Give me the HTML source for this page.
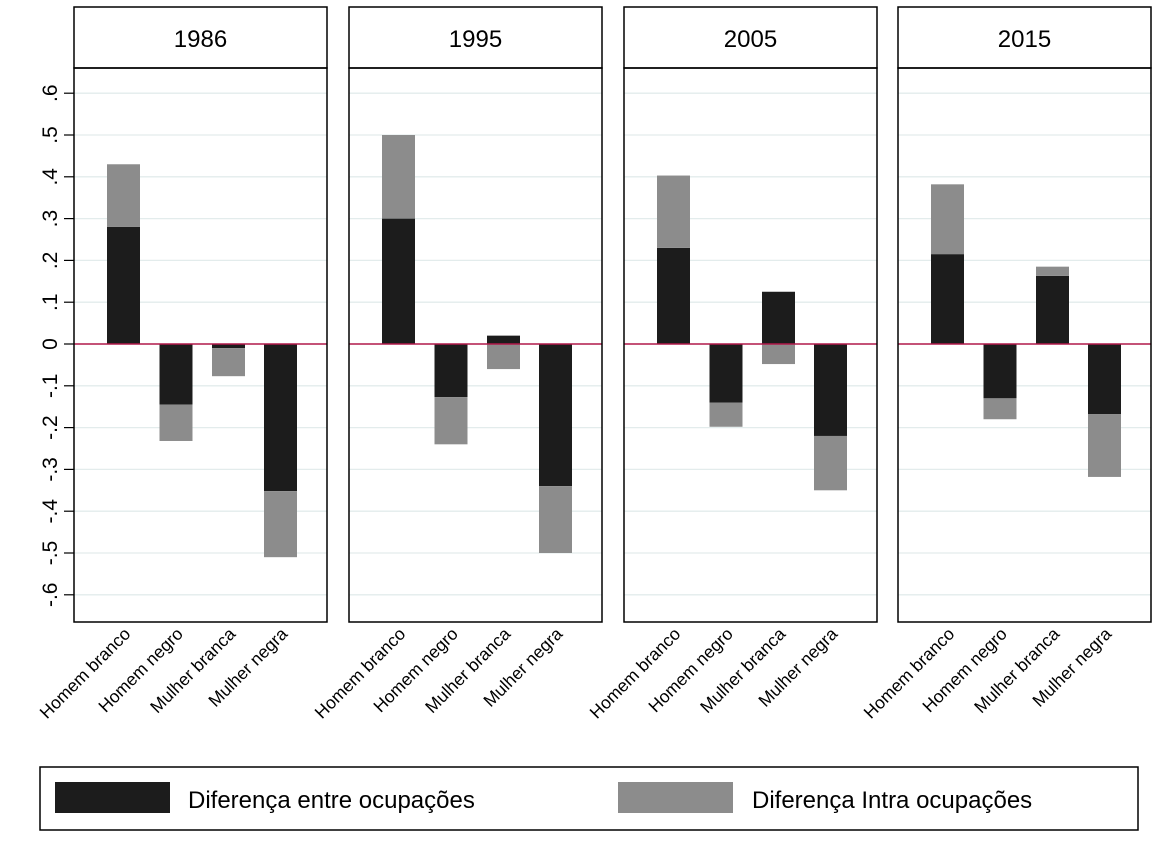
<!DOCTYPE html>
<html><head><meta charset="utf-8"><style>
body{margin:0;background:#fff;}
svg text{font-family:"Liberation Sans",sans-serif;}
</style></head><body>
<svg id="c" width="1174" height="854" xmlns="http://www.w3.org/2000/svg"></svg>
<script>
const years=["1986","1995","2005","2015"];
const groups=["Homem branco","Homem  negro","Mulher branca","Mulher  negra"];
const entre=[[0.28,-0.145,-0.01,-0.352],[0.30,-0.127,0.02,-0.34],[0.23,-0.14,0.125,-0.22],[0.215,-0.13,0.163,-0.168]];
const intra=[[0.15,-0.087,-0.067,-0.158],[0.20,-0.113,-0.06,-0.16],[0.173,-0.058,-0.048,-0.13],[0.167,-0.05,0.022,-0.15]];
const ticks=[0.6,0.5,0.4,0.3,0.2,0.1,0,-0.1,-0.2,-0.3,-0.4,-0.5,-0.6];
const tickLabels=[".6",".5",".4",".3",".2",".1","0","-.1","-.2","-.3","-.4","-.5","-.6"];

const NS="http://www.w3.org/2000/svg";
const svg=document.getElementById('c');
function el(t,a,p){const e=document.createElementNS(NS,t);for(const k in a)e.setAttribute(k,a[k]);(p||svg).appendChild(e);return e;}
const panelX=[74,349,624,898], panelW=253, plotTop=68, plotBottom=622;
const y=v=>344-v*418;
const barOff=[33,85.5,138,190], barW=33;

ticks.forEach((t,i)=>{
  const tk=el('line',{x1:64,x2:74,y1:y(t),y2:y(t),stroke:'#000','stroke-width':1.2});
  
  
  const tx=el('text',{x:0,y:0,'font-size':21,'text-anchor':'middle',transform:`translate(57,${y(t)}) rotate(-90)`});
  tx.textContent=tickLabels[i];
  
  
});

years.forEach((yr,p)=>{
  const x0=panelX[p];
  const g=el('g',{});
  
  
  el('rect',{x:x0,y:7,width:panelW,height:61,fill:'#fff',stroke:'#000','stroke-width':1.5},g);
  const h=el('text',{x:x0+panelW/2,y:47,'font-size':24,'text-anchor':'middle'},g);
  h.textContent=yr;
  
  
  ticks.forEach(t=>{ if(t!==0) el('line',{x1:x0,x2:x0+panelW,y1:y(t),y2:y(t),stroke:'#e3ecec','stroke-width':1.3},g);});
  groups.forEach((gr,i)=>{
    const e=entre[p][i], n=intra[p][i], bx=x0+barOff[i];
    const r1=el('rect',{x:bx,y:Math.min(y(0),y(e)),width:barW,height:Math.abs(y(e)-y(0)),fill:'#1c1c1c'},g);
    
    
    const base=(Math.sign(n)===Math.sign(e))?e:0;
    const r2=el('rect',{x:bx,y:Math.min(y(base),y(base+n)),width:barW,height:Math.abs(y(base+n)-y(base)),fill:'#8c8c8c'},g);
    
    
    const lb=el('text',{x:0,y:0,'font-size':17.5,'text-anchor':'end',transform:`translate(${bx+barW/2+8},${plotBottom+13}) rotate(-45)`});
    lb.textContent=gr;
    
    
  });
  el('line',{x1:x0,x2:x0+panelW,y1:y(0),y2:y(0),stroke:'#b0184a','stroke-width':1.5},g);
  el('rect',{x:x0,y:plotTop,width:panelW,height:plotBottom-plotTop,fill:'none',stroke:'#000','stroke-width':1.5},g);
});

const lg=el('g',{});


el('rect',{x:40,y:767,width:1098,height:63,fill:'#fff',stroke:'#000','stroke-width':1.5},lg);
el('rect',{x:55,y:782,width:115,height:31,fill:'#1c1c1c'},lg);
const l1=el('text',{x:188,y:808,'font-size':24},lg);
l1.textContent='Diferença entre ocupações';


el('rect',{x:618,y:782,width:115,height:31,fill:'#8c8c8c'},lg);
const l2=el('text',{x:752,y:808,'font-size':24},lg);
l2.textContent='Diferença Intra ocupações';


</script>
</body></html>
